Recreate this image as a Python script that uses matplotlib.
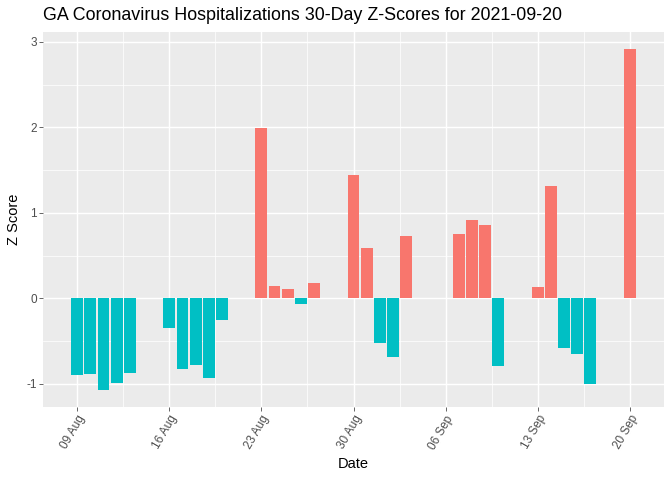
import matplotlib
matplotlib.use("Agg")
import matplotlib.pyplot as plt
import matplotlib.dates as mdates
import matplotlib.transforms as mtransforms
import numpy as np
import pandas as pd

plt.rcParams['font.family'] = ['Liberation Sans', 'DejaVu Sans']

dates = ["2021-08-09", "2021-08-10", "2021-08-11", "2021-08-12", "2021-08-13",
         "2021-08-16", "2021-08-17", "2021-08-18", "2021-08-19", "2021-08-20",
         "2021-08-23", "2021-08-24", "2021-08-25", "2021-08-26", "2021-08-27",
         "2021-08-30", "2021-08-31", "2021-09-01", "2021-09-02", "2021-09-03",
         "2021-09-07", "2021-09-08", "2021-09-09", "2021-09-10",
         "2021-09-13", "2021-09-14", "2021-09-15", "2021-09-16", "2021-09-17",
         "2021-09-20"]
zscores = [-0.90, -0.885, -1.07, -0.99, -0.875,
           -0.35, -0.83, -0.78, -0.93, -0.255,
           1.99, 0.14, 0.105, -0.07, 0.175,
           1.44, 0.585, -0.525, -0.68, 0.725,
           0.75, 0.915, 0.855, -0.785,
           0.13, 1.31, -0.585, -0.645, -0.995,
           2.915]
tick_dates = ["2021-08-09", "2021-08-16", "2021-08-23", "2021-08-30",
              "2021-09-06", "2021-09-13", "2021-09-20"]
tick_labels = ["09 Aug", "16 Aug", "23 Aug", "30 Aug", "06 Sep", "13 Sep", "20 Sep"]
y_ticks = [-1, 0, 1, 2, 3]

pos_color = "#F8766D"
neg_color = "#00BFC4"

d = pd.to_datetime(dates)
xnum = mdates.date2num(d)
vals = np.array(zscores)
colors = [pos_color if v > 0 else neg_color for v in vals]

fig = plt.figure(figsize=(7, 5), dpi=96)
W, H = 672, 480
ax = fig.add_axes([43 / W, (H - 407) / H, (664 - 43) / W, (407 - 32) / H])
ax.set_facecolor("#EBEBEB")

ax.bar(xnum, vals, width=0.9, color=colors, zorder=3)

tnum = mdates.date2num(pd.to_datetime(tick_dates))
ax.set_xticks(tnum)
ax.set_xticklabels(tick_labels, rotation=60, ha="right", va="top",
                   rotation_mode="anchor", fontsize=8.8, color="#4D4D4D")
offset = mtransforms.ScaledTranslation(3 / 96, 0, fig.dpi_scale_trans)
for lab in ax.get_xticklabels():
    lab.set_transform(lab.get_transform() + offset)
minor_x = (tnum[:-1] + tnum[1:]) / 2
minor_x = np.concatenate([[tnum[0] - 3.5], minor_x, [tnum[-1] + 3.5]])
ax.set_xticks(minor_x, minor=True)
ax.set_yticks(y_ticks)
ax.set_yticklabels([str(t) for t in y_ticks], fontsize=8.8, color="#4D4D4D")
ax.set_yticks([-0.5, 0.5, 1.5, 2.5], minor=True)

xmin = xnum.min() - 0.45
xmax = xnum.max() + 0.45
xr = xmax - xmin
ax.set_xlim(xmin - 0.05 * xr, xmax + 0.05 * xr)
ymin, ymax = vals.min(), vals.max()
yr = ymax - ymin
ax.set_ylim(ymin - 0.05 * yr, ymax + 0.05 * yr)

ax.grid(which="major", color="white", linewidth=1.1, zorder=0)
ax.grid(which="minor", color="white", linewidth=0.55, zorder=0)
ax.set_axisbelow(True)
for s in ax.spines.values():
    s.set_visible(False)
ax.tick_params(which="major", length=2.75, width=0.55, color="#333333", pad=2)
ax.tick_params(which="minor", length=0)

ax.set_xlabel("Date", fontsize=11, color="black", labelpad=4)
ax.set_ylabel("Z Score", fontsize=11, color="black", labelpad=4)
fig.text(43 / W, 1 - 16 / H, "GA Coronavirus Hospitalizations 30-Day Z-Scores for 2021-09-20",
         fontsize=13.4, ha="left", va="center", color="black")

fig.savefig("out.png", dpi=96)
